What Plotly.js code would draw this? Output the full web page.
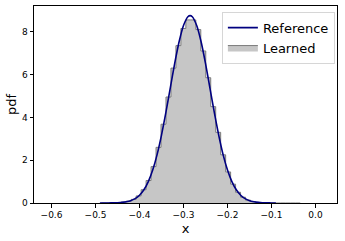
<!DOCTYPE html>
<html>
<head>
<meta charset="utf-8">
<script src="https://cdn.plot.ly/plotly-3.0.1.min.js"></script>
<style>html,body{margin:0;padding:0;background:#fff;}#chart{width:345px;height:241px;}</style>
</head>
<body>
<div id="chart"></div>
<script>
// Reference density curve
const refX = [-0.49, -0.48, -0.47, -0.46, -0.45, -0.44, -0.43, -0.42, -0.41, -0.40, -0.39, -0.38, -0.37, -0.36, -0.35, -0.34, -0.33, -0.32, -0.31, -0.30, -0.29, -0.285, -0.28, -0.27, -0.26, -0.25, -0.24, -0.23, -0.22, -0.21, -0.20, -0.19, -0.18, -0.17, -0.16, -0.15, -0.14, -0.13, -0.12, -0.11, -0.10, -0.09];
const refY = [0.0004, 0.0009, 0.0023, 0.0055, 0.013, 0.027, 0.056, 0.109, 0.204, 0.364, 0.618, 0.999, 1.54, 2.26, 3.17, 4.23, 5.38, 6.52, 7.53, 8.29, 8.70, 8.75, 8.70, 8.29, 7.53, 6.52, 5.38, 4.23, 3.17, 2.26, 1.54, 0.999, 0.618, 0.364, 0.204, 0.109, 0.056, 0.027, 0.013, 0.0055, 0.0023, 0.0009];

// Learned histogram: bin edges and densities
const binEdges = [-0.4867, -0.4754, -0.4641, -0.4528, -0.4415, -0.4302, -0.4189, -0.4076, -0.3963, -0.3850, -0.3737, -0.3624, -0.3511, -0.3398, -0.3285, -0.3172, -0.3059, -0.2946, -0.2833, -0.2720, -0.2607, -0.2494, -0.2381, -0.2268, -0.2155, -0.2042, -0.1929, -0.1816, -0.1703, -0.1590, -0.1477, -0.1364, -0.1251, -0.1138, -0.1025, -0.0912, -0.0799, -0.0686, -0.0573, -0.0460, -0.0347];
const binHeights = [0.002, 0.003, 0.007, 0.016, 0.04, 0.085, 0.17, 0.33, 0.62, 1.05, 1.70, 2.60, 3.68, 4.95, 6.30, 7.35, 8.15, 8.55, 8.55, 8.10, 7.10, 5.85, 4.50, 3.30, 2.25, 1.45, 0.88, 0.50, 0.27, 0.135, 0.065, 0.03, 0.013, 0.005, 0.002, 0.001, 0.001, 0.0005, 0.0005, 0.0005];

const xTicks = [-0.6, -0.5, -0.4, -0.3, -0.2, -0.1, 0.0];
const yTicks = [0, 2, 4, 6, 8];

// build step outline from edges/heights
const stepX = [binEdges[0]].concat(binEdges.slice(0, binHeights.length), [binEdges[binEdges.length - 1]]);
const stepY = [0].concat(binHeights, [0]);

const font = 'DejaVu Sans, sans-serif';

const refTrace = {
  x: refX, y: refY, type: 'scatter', mode: 'lines', name: 'Reference',
  line: {color: '#000080', width: 1.6, shape: 'spline', smoothing: 0.6},
  legendrank: 1
};
const histTrace = {
  x: stepX, y: stepY, type: 'scatter', mode: 'lines', name: 'Learned',
  line: {color: '#7a7a7a', width: 1, shape: 'hv'},
  fill: 'tozeroy', fillcolor: '#c6c6c6',
  legendrank: 2
};
const data = [histTrace, refTrace];

const axisCommon = {
  showline: true, mirror: true, linecolor: '#000', linewidth: 1,
  ticks: 'outside', ticklen: 3.5, tickwidth: 1, tickcolor: '#000',
  showgrid: false, zeroline: false,
  tickfont: {family: font, size: 9, color: '#000'}
};

const layout = {
  width: 345, height: 241,
  margin: {l: 34, r: 8, t: 6, b: 38},
  paper_bgcolor: '#fff', plot_bgcolor: '#fff',
  showlegend: true,
  legend: {
    x: 0.993, y: 0.971, xanchor: 'right', yanchor: 'top',
    bgcolor: '#fff', bordercolor: '#d6d6d6', borderwidth: 1,
    font: {family: font, size: 13, color: '#000'},
    traceorder: 'normal'
  },
  xaxis: Object.assign({}, axisCommon, {
    range: [-0.6398, 0.0489], tickvals: xTicks, tickformat: '.1f',
    title: {text: 'x', font: {family: font, size: 13, color: '#000'}, standoff: 4}
  }),
  yaxis: Object.assign({}, axisCommon, {
    range: [0, 9.2], tickvals: yTicks,
    title: {text: 'pdf', font: {family: font, size: 13, color: '#000'}, standoff: 2}
  })
};

Plotly.newPlot('chart', data, layout, {displayModeBar: false, staticPlot: true});
</script>
</body>
</html>
